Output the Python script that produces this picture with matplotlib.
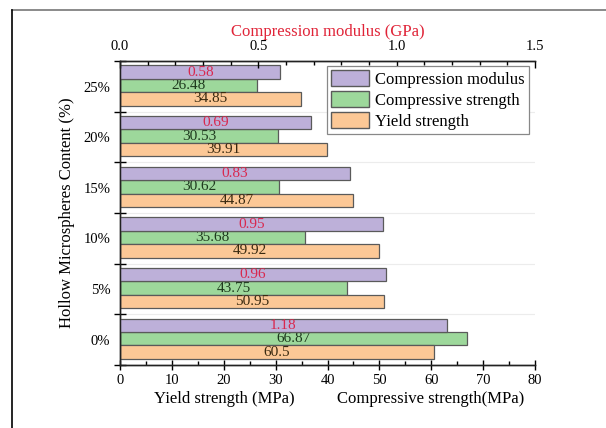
import matplotlib.pyplot as plt
import numpy as np
from matplotlib.patches import Patch
from matplotlib.lines import Line2D

plt.rcParams['font.family'] = ['Liberation Serif', 'DejaVu Serif']
plt.rcParams['xtick.direction'] = 'in'
plt.rcParams['ytick.direction'] = 'in'

# data, bottom group first
contents = ['0%', '5%', '10%', '15%', '20%', '25%']
modulus = [1.18, 0.96, 0.95, 0.83, 0.69, 0.58]           # GPa
compressive = [66.87, 43.75, 35.68, 30.62, 30.53, 26.48]  # MPa
yield_str = [60.5, 50.95, 49.92, 44.87, 39.91, 34.85]     # MPa
mod_labels = ['1.18', '0.96', '0.95', '0.83', '0.69', '0.58']
comp_labels = ['66.87', '43.75', '35.68', '30.62', '30.53', '26.48']
yield_labels = ['60.5', '50.95', '49.92', '44.87', '39.91', '34.85']

c_mod = '#bdb0d9'
c_comp = '#9dd89b'
c_yield = '#fcc896'
edge = '#5a5a5a'
red = '#e02438'
pink = '#d9284e'

fig = plt.figure(figsize=(6.06, 4.28), dpi=100)
ax = fig.add_axes([0.198, 0.147, 0.685, 0.710])
ax2 = ax.twiny()

y = np.arange(len(contents))
h = 0.265
off = 0.02

b_comp = ax.barh(y + off, compressive, height=h, color=c_comp, edgecolor=edge, linewidth=0.9)
b_yield = ax.barh(y + off - h, yield_str, height=h, color=c_yield, edgecolor=edge, linewidth=0.9)
b_mod = ax2.barh(y + off + h, modulus, height=h, color=c_mod, edgecolor=edge, linewidth=0.9)

ax.bar_label(b_comp, labels=comp_labels, label_type='center', fontsize=11, color='#1e3a1e')
ax.bar_label(b_yield, labels=yield_labels, label_type='center', fontsize=11, color='#3a2a10')
ax2.bar_label(b_mod, labels=mod_labels, label_type='center', fontsize=11, color=pink)

ax.set_xlim(0, 80)
ax2.set_xlim(0, 1.5)
ax.set_ylim(-0.5, 5.5)

# bottom axis
ax.set_xticks(np.arange(0, 81, 10))
ax.set_xticks(np.arange(5, 80, 10), minor=True)
ax.tick_params(axis='x', which='major', direction='inout', length=7, width=1, labelsize=10.5, pad=3)
ax.tick_params(axis='x', which='minor', direction='in', length=3, width=1)

# left axis: labels at group centres, ticks at group boundaries
ax.set_yticks(y)
ax.set_yticklabels(contents)
ax.set_yticks(np.arange(-0.5, 5.6, 1), minor=True)
ax.tick_params(axis='y', which='major', length=0, labelsize=10.5, pad=7)
ax.tick_params(axis='y', which='minor', direction='inout', length=8, width=1)
ax.grid(axis='y', which='minor', color='#ececec', linewidth=0.8)
ax.set_axisbelow(True)

# top axis
ax2.set_xticks([0.0, 0.5, 1.0, 1.5])
ax2.set_xticklabels(['0.0', '0.5', '1.0', '1.5'])
ax2.set_xticks(np.arange(0.1, 1.5, 0.1), minor=True)
ax2.tick_params(axis='x', which='major', direction='in', length=5, width=1, labelsize=10.5, pad=6)
ax2.tick_params(axis='x', which='minor', direction='in', length=3, width=1)
ax2.set_xlabel('Compression modulus (GPa)', color=red, fontsize=12, labelpad=3)

for a in (ax, ax2):
    a.spines['right'].set_visible(False)
    for s in ('left', 'top', 'bottom'):
        a.spines[s].set_linewidth(1)
        a.spines[s].set_color('#222222')

ax.set_ylabel('Hollow Microspheres Content (%)', fontsize=12, labelpad=6)

fig.text(0.37, 0.068, 'Yield strength (MPa)', fontsize=12, ha='center', va='center')
fig.text(0.71, 0.068, 'Compressive strength(MPa)', fontsize=12, ha='center', va='center')

handles = [Patch(facecolor=c_mod, edgecolor=edge, label='Compression modulus'),
           Patch(facecolor=c_comp, edgecolor=edge, label='Compressive strength'),
           Patch(facecolor=c_yield, edgecolor=edge, label='Yield strength')]
leg = ax2.legend(handles=handles, loc='upper right', bbox_to_anchor=(0.985, 0.985),
                 fontsize=12, fancybox=False, edgecolor='#888888', framealpha=1,
                 handlelength=2.3, handleheight=1.1, labelspacing=0.2,
                 handletextpad=0.35, borderpad=0.25, borderaxespad=0)
leg.get_frame().set_linewidth(0.9)

# outer frame lines of the image
fig.add_artist(Line2D([12 / 606, 1.0], [1 - 10 / 428, 1 - 10 / 428], color='#777777', linewidth=1.2))
fig.add_artist(Line2D([12 / 606, 12 / 606], [0, 1 - 10 / 428], color='black', linewidth=1.2))

fig.savefig('out.png', dpi=100)
